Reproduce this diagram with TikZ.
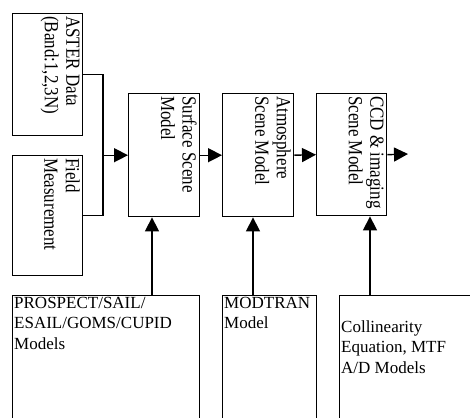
\documentclass[tikz,border=0pt]{standalone}
\usepackage{fontspec}
\setmainfont{Liberation Serif}
\usetikzlibrary{arrows.meta}
\begin{document}
\begin{tikzpicture}[x=1pt,y=-1pt,
  box/.style={draw, line width=1.4pt, anchor=north west, inner sep=0pt},
  txt/.style={font=\fontsize{17}{20.5}\selectfont, align=left, inner sep=2pt},
  vtxt/.style={font=\fontsize{20}{21.5}\selectfont, align=left, inner sep=3.5pt,
    rotate=-90, xscale=0.85, anchor=north west},
  arr/.style={line width=1.4pt, -{Triangle[length=14pt,width=14pt]}},
  ln/.style={line width=1.4pt}]
\useasboundingbox (0,0) rectangle (470,417);
\clip (0,0) rectangle (470,417);
% upper boxes
\node[box, minimum width=70pt, minimum height=122pt] (aster) at (12,13) {};
\node[box, minimum width=70pt, minimum height=120pt] (field) at (12,155) {};
\node[box, minimum width=71pt, minimum height=123pt] (surface) at (128,93) {};
\node[box, minimum width=71pt, minimum height=123pt] (atmos) at (222,93) {};
\node[box, minimum width=70pt, minimum height=122pt] (ccd) at (316,93) {};
% lower boxes (cut by the picture's edge)
\node[box, minimum width=187pt, minimum height=150pt] (prospect) at (12,295) {};
\node[box, minimum width=94pt, minimum height=150pt] (modtran) at (222,295) {};
\node[box, minimum width=160pt, minimum height=150pt] (coll) at (339,295) {};
% texts
\node[vtxt] (asterT) at (aster.north east) {ASTER Data\\(Band:1,2,3N)};
\node[vtxt] (fieldT) at (field.north east) {Field\\Measurement};
\node[vtxt] (surfT) at (surface.north east) {Surface Scene\\Model};
\node[vtxt] (atmosT) at (atmos.north east) {Atmosphere\\Scene Model};
\node[vtxt] (ccdT) at (ccd.north east) {CCD \& imaging\\Scene Model};
\node[txt, anchor=north west] (prosT) at (prospect.north west) {PROSPECT/SAIL/\\ESAIL/GOMS/CUPID\\Models};
\node[txt, anchor=north west] (modT) at (modtran.north west) {MODTRAN\\Model};
\node[txt, anchor=north west] (collT) at (339,318) {Collinearity\\Equation, MTF\\A/D Models};
% connectors
\coordinate (j) at (103,0);
\coordinate (v1) at (152,0);
\coordinate (v2) at (253,0);
\coordinate (v3) at (370,0);
\coordinate (out) at (408,154);
\draw[ln] (aster.east) -- (aster.east -| j) -- (field.east -| j) -- (field.east);
\draw[arr] (surface.west -| j) -- (surface.west);
\draw[arr] (surface.east) -- (atmos.west);
\draw[arr] (atmos.east) -- (ccd.west);
\draw[arr] (ccd.east) -- (out);
\draw[arr] (prospect.north -| v1) -- (surface.south -| v1);
\draw[arr] (modtran.north -| v2) -- (atmos.south -| v2);
\draw[arr] (coll.north -| v3) -- (ccd.south -| v3);
\end{tikzpicture}
\end{document}
